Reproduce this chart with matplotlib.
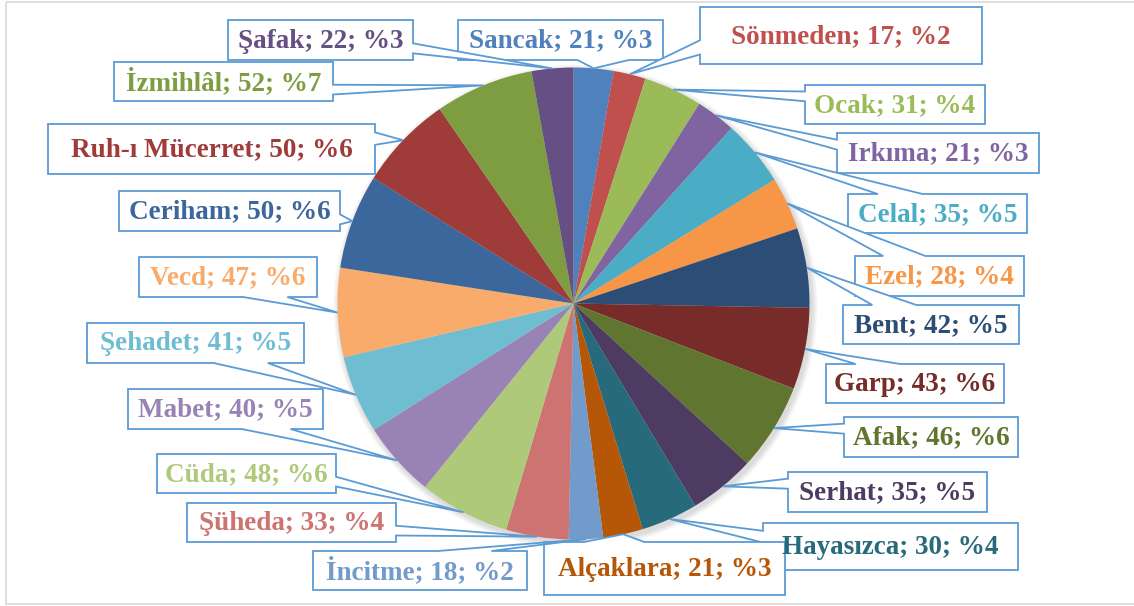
import matplotlib.pyplot as plt
from matplotlib.patches import Polygon, Circle, Rectangle
import numpy as np

# slice data (clockwise from 12 o'clock)
names = ['Sancak', 'Sönmeden', 'Ocak', 'Irkıma', 'Celal', 'Ezel', 'Bent', 'Garp',
         'Afak', 'Serhat', 'Hayasızca', 'Alçaklara', 'İncitme', 'Şüheda', 'Cüda',
         'Mabet', 'Şehadet', 'Vecd', 'Ceriham', 'Ruh-ı Mücerret', 'İzmihlâl', 'Şafak']
values = [21, 17, 31, 21, 35, 28, 42, 43, 46, 35, 30, 21, 18, 33, 48, 40, 41, 47,
          50, 50, 52, 22]
colors = ['#4F81BD', '#C0504D', '#9BBB59', '#8064A2', '#4BACC6', '#F79646',
          '#2C4D75', '#772C2A', '#5F7530', '#4D3B62', '#276A7C', '#B65708',
          '#729ACA', '#CD7371', '#AFC97A', '#9983B5', '#6FBDD1', '#F9AB6B',
          '#3B679C', '#9F3B38', '#7E9D40', '#664F83']

# callout boxes in pixel coords (left, top, right, bottom)
boxes = [(458, 20, 663, 60), (700, 7, 982, 64), (805, 85, 985, 124),
         (837, 133, 1039, 173), (848, 194, 1027, 233), (855, 256, 1024, 296),
         (843, 305, 1019, 344), (826, 364, 1004, 403), (844, 417, 1018, 457),
         (788, 472, 987, 512), (763, 523, 1018, 570), (544, 542, 785, 595),
         (313, 551, 527, 590), (187, 503, 396, 542), (157, 454, 336, 493),
         (128, 389, 323, 429), (87, 323, 304, 363), (139, 257, 317, 297),
         (119, 191, 340, 231), (48, 124, 375, 174), (114, 62, 333, 101),
         (228, 20, 413, 60)]

W, H = 1134, 606
cx, cy, R = 573.5, 303.5, 236
edge = '#5B9BD5'

fig = plt.figure(figsize=(W / 100, H / 100), dpi=100)
ax = fig.add_axes([0, 0, 1, 1])

# soft shadow behind the pie
for k in range(6, 0, -1):
    ax.add_patch(Circle((cx + 2, cy + 3), R + k, color='#000000', alpha=0.025, lw=0, zorder=0))

# y axis is flipped below, so counterclock=True runs clockwise on screen
wedges, _ = ax.pie(values, colors=colors, startangle=-90, counterclock=True,
                   center=(cx, cy), radius=R, wedgeprops=dict(linewidth=0))


def callout(box, tip):
    l, t, r, b = box
    w, h = r - l, b - t
    hc, vc = (l + r) / 2, (t + b) / 2
    dx, dy = tip[0] - hc, tip[1] - vc
    dz = abs(dy) - abs(dx * h / w)
    x1 = l + w * (7 if dx > 0 else 2) / 12
    x2 = l + w * (10 if dx > 0 else 5) / 12
    y1 = t + h * (7 if dy > 0 else 2) / 12
    y2 = t + h * (10 if dy > 0 else 5) / 12
    pts = [(l, t)]
    if dz > 0 and dy < 0:
        pts += [(x1, t), tip, (x2, t)]
    pts += [(r, t)]
    if dz <= 0 and dx > 0:
        pts += [(r, y1), tip, (r, y2)]
    pts += [(r, b)]
    if dz > 0 and dy > 0:
        pts += [(x2, b), tip, (x1, b)]
    pts += [(l, b)]
    if dz <= 0 and dx < 0:
        pts += [(l, y2), tip, (l, y1)]
    return pts


total = sum(values)
for i, wdg in enumerate(wedges):
    mid = np.deg2rad((wdg.theta1 + wdg.theta2) / 2)
    tip = (cx + R * np.cos(mid), cy + R * np.sin(mid))
    box = boxes[i]
    ax.add_patch(Polygon(callout(box, tip), closed=True, facecolor='white',
                         edgecolor=edge, lw=1.3, zorder=3 + i * 0.01))
    pct = int(values[i] / total * 100 + 0.5)
    ax.text((box[0] + box[2]) / 2, (box[1] + box[3]) / 2 + 1,
            f'{names[i]}; {values[i]}; %{pct}', ha='center', va='center',
            color=colors[i], fontsize=19.5, fontweight='bold',
            family='Liberation Serif', zorder=4 + i * 0.01)

# chart frame
ax.add_patch(Rectangle((6, 2), W, 602, fill=False, edgecolor='#D9D9D9', lw=1.2, zorder=5))

ax.set_xlim(0, W)
ax.set_ylim(H, 0)
ax.set_aspect('equal')
ax.axis('off')

fig.savefig('out.png', dpi=100, facecolor='white')
